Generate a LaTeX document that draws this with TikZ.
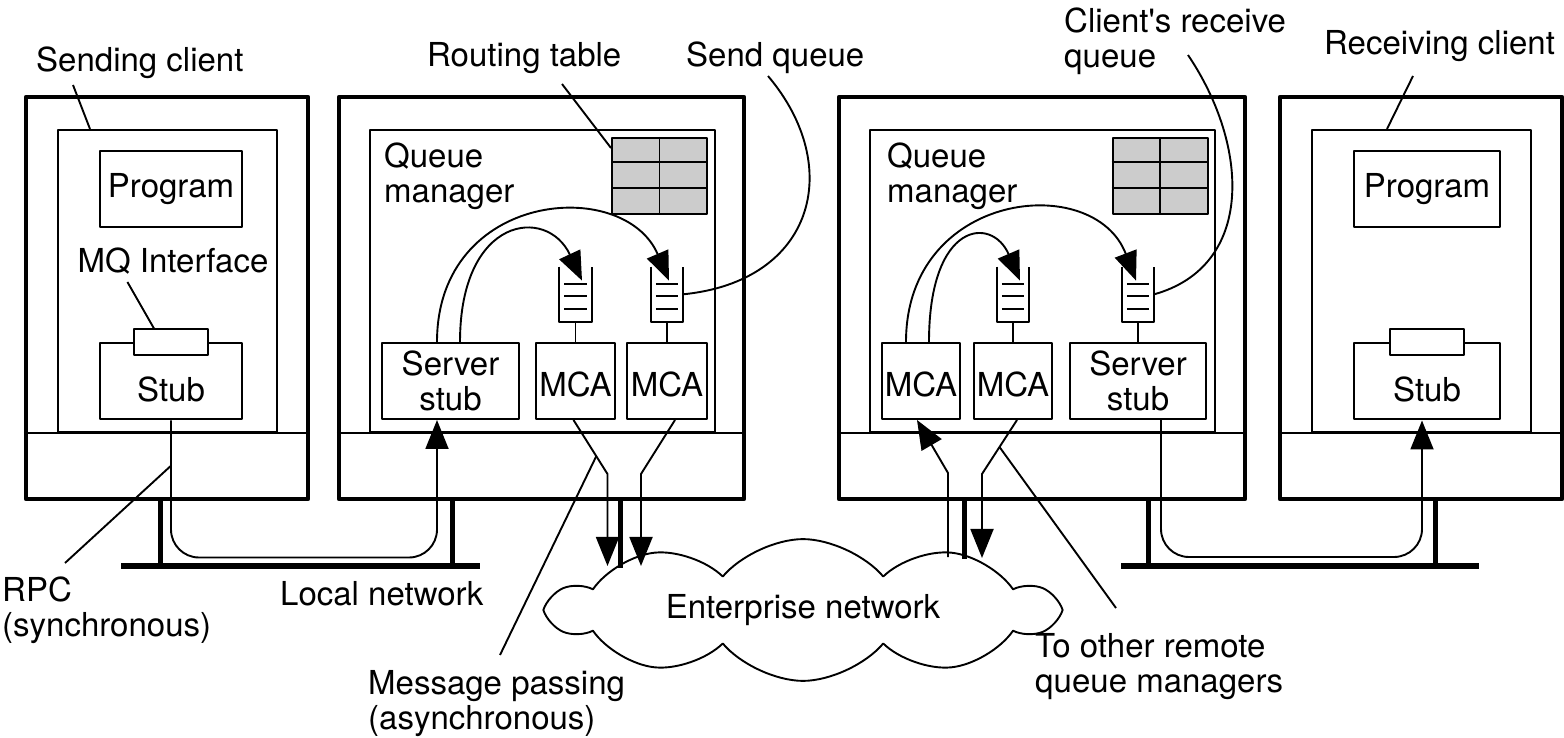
\documentclass[tikz,border=0pt]{standalone}
\usepackage{fontspec}
\setmainfont{TeX Gyre Heros}
\usetikzlibrary{arrows.meta,positioning,shapes.symbols}

\begin{document}
\begin{tikzpicture}[x=1pt, y=1pt, >={Triangle[length=29pt,width=23pt]}, line join=round,
	font=\fontsize{33}{35}\selectfont,
	machine/.style={draw, line width=4.5pt, minimum width=#1pt, minimum height=402pt, inner sep=0pt},
	panel/.style={draw, line width=2pt, minimum width=#1pt, minimum height=302pt, inner sep=0pt},
	blk/.style={draw, line width=2pt, fill=white, minimum width=#1pt, minimum height=76pt, inner sep=0pt, align=center},
	iface/.style={draw, line width=2pt, fill=white, minimum width=74pt, minimum height=26pt, inner sep=0pt},
	qbox/.style={minimum width=32pt, minimum height=55pt, inner sep=0pt},
	rtab/.style={draw, line width=2pt, fill=gray!40, minimum width=95pt, minimum height=76pt, inner sep=0pt},
	lbl/.style={inner sep=0pt, align=left},
	wire/.style={line width=1.9pt},
	leg/.style={line width=5pt},
	bar/.style={line width=6pt}]
	\useasboundingbox (0,0) rectangle (1564,737);
	%\draw[color=gray!50,dashed] (0,0) grid[step=50pt] (1564,737);
	% machines
	\node[machine=282] (S) at (167,439) {};
	\node[machine=405] (QS) at (541.5,439) {};
	\node[machine=406] (QR) at (1042,439) {};
	\node[machine=282] (R) at (1421,439) {};
	\node[panel=219] (pS) at (167.5,456) {};
	\node[panel=345] (pQS) at (542.5,456) {};
	\node[panel=345] (pQR) at (1042.5,456) {};
	\node[panel=219] (pR) at (1421.5,456) {};
	\foreach \m in {S,QS,QR,R} \draw[wire] (\m.west |- p\m.south) -- (\m.east |- p\m.south);
	% clients
	\node[blk=142] (progS) at (171,548) {Program};
	\node[blk=142, text height=40pt, text depth=0pt] (stubS) at (171,355.5) {Stub};
	\node[iface] (ifS) at (stubS.north) {};
	\node[blk=146] (progR) at (1427,548) {Program};
	\node[blk=146, text height=40pt, text depth=0pt] (stubR) at (1427,355.5) {Stub};
	\node[iface] (ifR) at (stubR.north) {};
	% queue managers
	\node[lbl, anchor=north west] (qmS) at (384,594) {Queue\\manager};
	\node[lbl, anchor=north west] (qmR) at (887,594) {Queue\\manager};
	\node[blk=137] (ssS) at (450.5,356) {Server\\stub};
	\node[blk=79, text height=32pt, text depth=0pt, right=15pt of ssS] (mcaS1) {MCA};
	\node[blk=80, text height=32pt, text depth=0pt, right=10pt of mcaS1] (mcaS2) {MCA};
	\node[blk=78, text height=32pt, text depth=0pt] (mcaR1) at (921,356) {MCA};
	\node[blk=78, text height=32pt, text depth=0pt, right=12pt of mcaR1] (mcaR2) {MCA};
	\node[blk=136, right=16pt of mcaR2] (ssR) {Server\\stub};
	\node[qbox, above=20pt of mcaS1] (qS1) {};
	\node[qbox, above=20pt of mcaS2] (qS2) {};
	\node[qbox, above=20pt of mcaR2] (qR1) {};
	\node[qbox, above=20pt of ssR] (qR2) {};
	\foreach \q/\b in {qS1/mcaS1, qS2/mcaS2, qR1/mcaR2, qR2/ssR} {
		\draw[wire] (\q.north west) |- (\q.south) -| (\q.north east);
		\foreach \d in {17,29,42} \draw[wire] ([shift={(5,-\d)}]\q.north west) -- ([shift={(-5,-\d)}]\q.north east);
		\draw[wire] (\q.south) -- (\b.north);
	}
	\node[rtab] (rtS) at (659.5,561) {};
	\node[rtab] (rtR) at (1160,561) {};
	\foreach \t in {rtS,rtR} {
		\draw[wire] (\t.north) -- (\t.south);
		\foreach \d in {25.3,50.7} \draw[wire] ([yshift=-\d]\t.north west) -- ([yshift=-\d]\t.north east);
	}
	\draw[wire,->] ([xshift=-13.5]ssS.north) .. controls +(0,151) and +(-45,105) .. ([shift={(2,-14)}]qS2.north);
	\draw[wire,->] ([xshift=9.5]ssS.north) .. controls +(0,126) and +(-35,75) .. ([shift={(6.5,-14)}]qS1.north);
	\draw[wire,->] ([xshift=-15]mcaR1.north) .. controls +(0,151) and +(-42,110) .. ([shift={(-2,-14)}]qR2.north);
	\draw[wire,->] ([xshift=8]mcaR1.north) .. controls +(0,121) and +(-28,65) .. ([shift={(7,-14)}]qR1.north);
	% networks
	\node[cloud, draw, wire, cloud puffs=10, cloud puff arc=100, aspect=4.3, minimum width=504pt, minimum height=117pt, inner sep=0pt] (enet) at (803,127) {Enterprise network};
	\draw[bar] (121,171) -- (480,171);
	\draw[bar] (1121,171) -- (1479,171);
	\draw[leg] ([xshift=-7]S.south) -- ++(0,-67);
	\draw[leg] ([xshift=-89.5]QS.south) -- ++(0,-67);
	\draw[leg] ([xshift=78.5]QS.south) -- ++(0,-67);
	\draw[leg] ([xshift=-78]QR.south) -- ++(0,-58);
	\draw[leg] ([xshift=106]QR.south) -- ++(0,-67);
	\draw[leg] ([xshift=14]R.south) -- ++(0,-67);
	\draw[wire,->,rounded corners=28pt] (stubS.south) -- ++(0,-137) coordinate[pos=0.33] (rpc) -| ([xshift=-13.5]ssS.south);
	\draw[wire,->,rounded corners=28pt] ([xshift=23]ssR.south) -- ++(0,-137) -| ([xshift=-5]stubR.south);
	\draw[wire,->] ([xshift=-2]mcaS1.south) -- ++(34,-54) coordinate[pos=0.67] (mpS) -- ++(0,-92);
	\draw[wire,->] ([xshift=8]mcaS2.south) -- ++(-34,-54) -- ++(0,-92);
	\coordinate (inR) at (948,180);
	\draw[wire,->] (inR) -- ++(0,84) -- ([xshift=-4]mcaR1.south);
	\draw[wire,->] ([xshift=4]mcaR2.south) -- ++(-35,-54) coordinate[pos=0.5] (toR) -- ++(0,-84);
	% labels
	\node[lbl, anchor=base west] (scl) at (36,665) {Sending client};
	\draw[wire] ([shift={(37,-13)}]scl.base west) -- ([xshift=-77.5]pS.north);
	\node[lbl, anchor=base] (mql) at (173,464) {MQ Interface};
	\draw[wire] ([shift={(50,-9)}]mql.base west) -- ([xshift=-17]ifS.north);
	\node[lbl, anchor=base west] (rtl) at (427,670) {Routing table};
	\draw[wire] ([shift={(135,-17)}]rtl.base west) -- ([yshift=-11]rtS.north west);
	\node[lbl, anchor=base west] (sql) at (686,670) {Send queue};
	\draw[wire] ([shift={(82,-9)}]sql.base west) .. controls +(77,-91) and +(131,13) .. (qS2.east);
	\node[lbl, anchor=north west] (crl) at (1064,729.5) {Client\textquotesingle s receive\\queue};
	\draw[wire] ([shift={(124,-47.5)}]crl.north west) .. controls +(62,-92) and +(100,28) .. (qR2.east);
	\node[lbl, anchor=base west] (rcl) at (1324,682) {Receiving client};
	\draw[wire] ([shift={(89,-21)}]rcl.base west) -- ([xshift=-34.5]pR.north);
	\node[lbl, anchor=north west] (rpcl) at (2,160) {RPC\\(synchronous)};
	\draw[wire] (rpc) -- ([shift={(63,14)}]rpcl.north west);
	\node[lbl, anchor=base west] (lnl) at (280,132) {Local network};
	\node[lbl, anchor=north west] (mpl) at (368,67) {Message passing\\(asynchronous)};
	\draw[wire] (mpS) -- ([shift={(132,15)}]mpl.north west);
	\node[lbl, anchor=north west] (torl) at (1035,104) {To other remote\\queue managers};
	\draw[wire] (toR) -- ([shift={(81,25)}]torl.north west);
\end{tikzpicture}
\end{document}
